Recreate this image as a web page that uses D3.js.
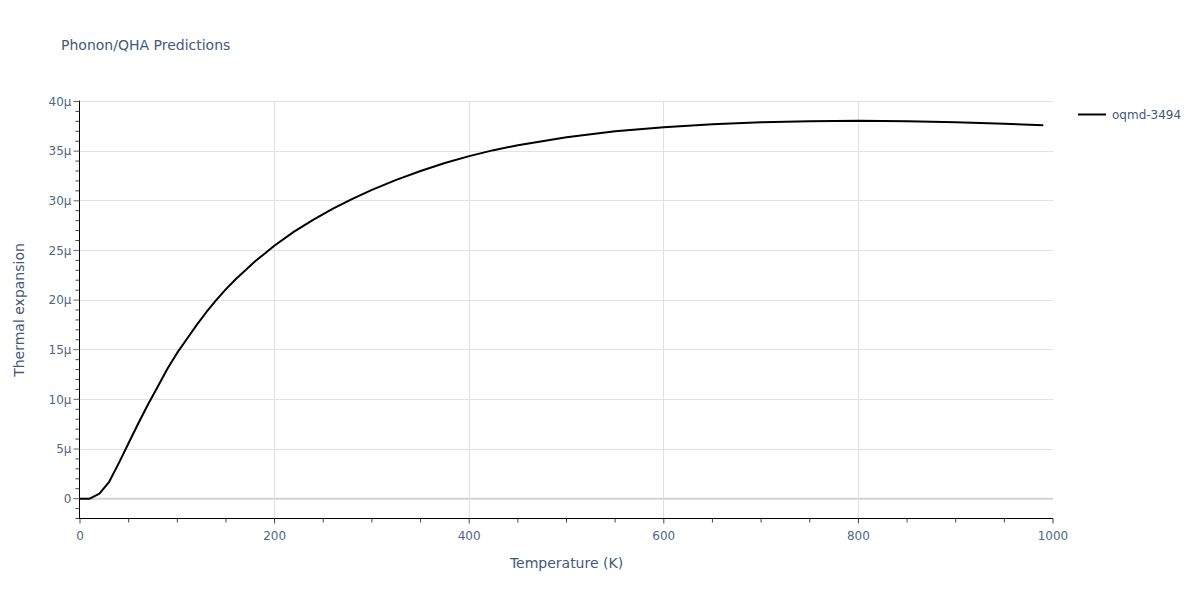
<!DOCTYPE html>
<html><head><meta charset="utf-8">
<script src="https://cdn.jsdelivr.net/npm/d3@7"></script>
<style>body{margin:0;background:#fff;}svg{display:block;font-family:"DejaVu Sans",Verdana,sans-serif;}</style>
</head><body>
<svg id="c" width="1200" height="600"></svg>
<script>
const temps = [0,10,20,30,40,50,60,70,80,90,100,110,120,130,140,150,160,170,180,190,200,220,240,260,280,300,325,350,375,400,425,450,475,500,550,600,650,700,750,800,850,900,950,990];
const expansion = [0,0,0.5,1.7,3.6,5.6,7.6,9.5,11.3,13.1,14.7,16.1,17.5,18.8,20.0,21.1,22.1,23.0,23.9,24.7,25.5,26.9,28.1,29.2,30.2,31.1,32.1,33.0,33.8,34.5,35.1,35.6,36.0,36.4,37.0,37.4,37.7,37.9,38.0,38.07,38.0,37.9,37.75,37.6];
const xTicks = [0,200,400,600,800,1000];
const yTicks = [0,5,10,15,20,25,30,35,40];
const seriesName = "oqmd-3494";
const titleText = "Phonon/QHA Predictions";
const xTitle = "Temperature (K)";
const yTitle = "Thermal expansion";

const svg = d3.select("#c");
const L = 80, R = 1053, T = 101.5, B = 518.5;
const x = d3.scaleLinear().domain([0,1000]).range([L,R]);
const y = d3.scaleLinear().domain([-2,40]).range([B,T]);
const txt = "#506784";
const ttl = "#44587a";
const fmtY = v => v === 0 ? "0" : v + "µ";

// grid
const g = svg.append("g");
g.selectAll(".gx").data(xTicks.filter(d=>d>0&&d<1000)).join("line")
  .attr("x1",d=>x(d)).attr("x2",d=>x(d)).attr("y1",T).attr("y2",B)
  .attr("stroke","#e1e1e1").attr("stroke-width",1).attr("shape-rendering","crispEdges");
g.selectAll(".gy").data(yTicks.filter(d=>d!==0)).join("line")
  .attr("x1",L).attr("x2",R).attr("y1",d=>y(d)).attr("y2",d=>y(d))
  .attr("stroke","#e1e1e1").attr("stroke-width",1).attr("shape-rendering","crispEdges");
g.append("line").attr("x1",L).attr("x2",R).attr("y1",y(0)).attr("y2",y(0))
  .attr("stroke","#d4d4d4").attr("stroke-width",2);

// axes
const xMinor = d3.range(0,1001,50);
const xa = svg.append("g").attr("transform",`translate(0,${B})`);
xa.append("line").attr("x1",L-1).attr("x2",R).attr("y1",0).attr("y2",0).attr("stroke","#000").attr("stroke-width",1);
xa.selectAll(".t").data(xMinor).join("line")
  .attr("x1",d=>x(d)).attr("x2",d=>x(d)).attr("y1",0).attr("y2",d=>d%200===0?5:4)
  .attr("stroke","#444").attr("stroke-width",1);
xa.selectAll("text").data(xTicks).join("text")
  .attr("x",d=>x(d)).attr("y",21).attr("text-anchor","middle")
  .attr("font-size",12).attr("fill",txt).text(d=>d);

const yMinor = d3.range(-2,41,1);
const ya = svg.append("g").attr("transform",`translate(${L-0.5},0)`);
ya.append("line").attr("x1",0).attr("x2",0).attr("y1",T-1).attr("y2",B).attr("stroke","#000").attr("stroke-width",1);
ya.selectAll(".t").data(yMinor).join("line")
  .attr("x1",d=>d%5===0?-6:-4).attr("x2",0).attr("y1",d=>y(d)).attr("y2",d=>y(d))
  .attr("stroke",d=>d%5===0?"#666":"#444").attr("stroke-width",1);
ya.selectAll("text").data(yTicks).join("text")
  .attr("x",-8).attr("y",d=>y(d)).attr("dy","0.35em").attr("text-anchor","end")
  .attr("font-size",12).attr("fill",txt).text(fmtY);

// line
const line = d3.line().x((d,i)=>x(temps[i])).y(d=>y(d));
svg.append("path").datum(expansion).attr("d",line)
  .attr("fill","none").attr("stroke","#000").attr("stroke-width",2).attr("stroke-linejoin","round");

// titles
svg.append("text").attr("x",61).attr("y",50).attr("font-size",14).attr("fill",ttl).text(titleText);
svg.append("text").attr("x",(L+R)/2).attr("y",568).attr("text-anchor","middle").attr("font-size",14).attr("fill",ttl).text(xTitle);
svg.append("text").attr("transform",`translate(24,${(T+B)/2}) rotate(-90)`).attr("text-anchor","middle")
  .attr("font-size",14).attr("fill",ttl).text(yTitle);

// legend
svg.append("line").attr("x1",1078).attr("x2",1106).attr("y1",114.5).attr("y2",114.5).attr("stroke","#000").attr("stroke-width",2);
svg.append("text").attr("x",1112).attr("y",114.5).attr("dy","0.35em").attr("font-size",12).attr("fill",ttl).text(seriesName);
</script>
</body></html>
